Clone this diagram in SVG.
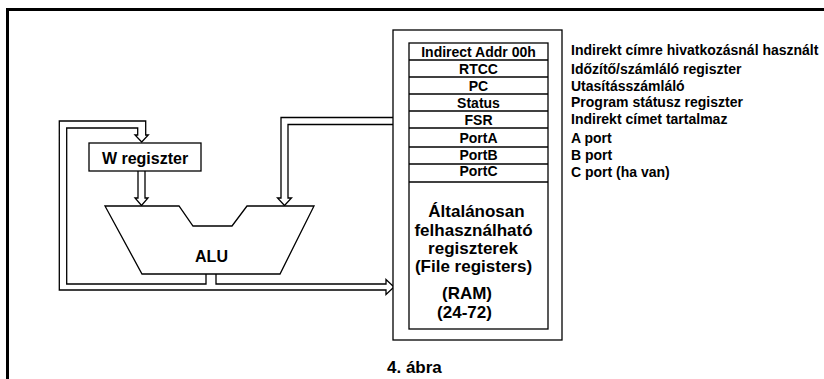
<svg xmlns="http://www.w3.org/2000/svg" width="824" height="379" viewBox="0 0 824 379">
<style>
text{font-family:"Liberation Sans",Arial,sans-serif;font-weight:bold;fill:#000}
.ln{fill:#fff;stroke:#000;stroke-width:1.3;stroke-linejoin:miter}
.nl{fill:none;stroke:#000;stroke-width:1.3}
.row{font-size:14px;text-anchor:middle}
.desc{font-size:14px}
.big{font-size:17px;text-anchor:middle}
</style>
<rect width="824" height="379" fill="#fff"/>
<rect x="7.5" y="9.5" width="840" height="420" fill="none" stroke="#000" stroke-width="3"/>

<g id="connectors">
  <path class="ln" d="M206 274 V284 H66.7 V128 H137.7 V135 H135 L141.7 142 L148.3 135 H145.7 V121 H59.3 V290 H386 V294.5 L394 287 L386 279.5 V284 H216 V274"/>
  <path class="ln" d="M393 117.5 H281 V198 H277.5 L284.5 205.5 L291.5 198 H288 V124.5 H393"/>
  <path class="ln" d="M138 171 V198 H135 L141.5 205.5 L148 198 H145 V171"/>
</g>

<g id="w-register">
  <rect class="ln" x="89" y="143" width="112" height="28"/>
  <text x="145" y="163.5" font-size="16" text-anchor="middle">W regiszter</text>
</g>

<g id="alu">
  <polygon class="ln" points="105,206 179,206 193,226 232,226 247,206 314,206 280,274 142,274"/>
  <text x="211.5" y="262" font-size="16" text-anchor="middle">ALU</text>
</g>

<g id="memory">
  <rect class="ln" x="393" y="30" width="169" height="310"/>
  <rect class="ln" x="409" y="43" width="139" height="286"/>
  <g class="nl">
    <line x1="409" y1="60" x2="548" y2="60"/>
    <line x1="409" y1="77" x2="548" y2="77"/>
    <line x1="409" y1="94" x2="548" y2="94"/>
    <line x1="409" y1="111" x2="548" y2="111"/>
    <line x1="409" y1="128" x2="548" y2="128"/>
    <line x1="409" y1="147" x2="548" y2="147"/>
    <line x1="409" y1="164" x2="548" y2="164"/>
    <line x1="409" y1="182" x2="548" y2="182"/>
  </g>
  <text class="row" x="478.5" y="57">Indirect Addr 00h</text>
  <text class="row" x="478.5" y="74">RTCC</text>
  <text class="row" x="478.5" y="91">PC</text>
  <text class="row" x="478.5" y="107.5">Status</text>
  <text class="row" x="478.5" y="124.5">FSR</text>
  <text class="row" x="478.5" y="143">PortA</text>
  <text class="row" x="478.5" y="159.5">PortB</text>
  <text class="row" x="478.5" y="176">PortC</text>
  <text class="big" x="476.5" y="217">Általánosan</text>
  <text class="big" x="473.5" y="236">felhasználható</text>
  <text class="big" x="473" y="254">regiszterek</text>
  <text class="big" x="473.5" y="272">(File registers)</text>
  <text class="big" x="467" y="299">(RAM)</text>
  <text class="big" x="464.5" y="318">(24-72)</text>
</g>

<g id="descriptions">
  <text class="desc" x="571" y="55">Indirekt címre hivatkozásnál használt</text>
  <text class="desc" x="571" y="74">Időzítő/számláló regiszter</text>
  <text class="desc" x="571" y="91">Utasításszámláló</text>
  <text class="desc" x="571" y="107">Program státusz regiszter</text>
  <text class="desc" x="571" y="124">Indirekt címet tartalmaz</text>
  <text class="desc" x="571" y="143">A port</text>
  <text class="desc" x="571" y="160">B port</text>
  <text class="desc" x="571" y="177">C port (ha van)</text>
</g>

<g id="caption">
  <text x="387" y="373" font-size="17">4. ábra</text>
</g>
</svg>
